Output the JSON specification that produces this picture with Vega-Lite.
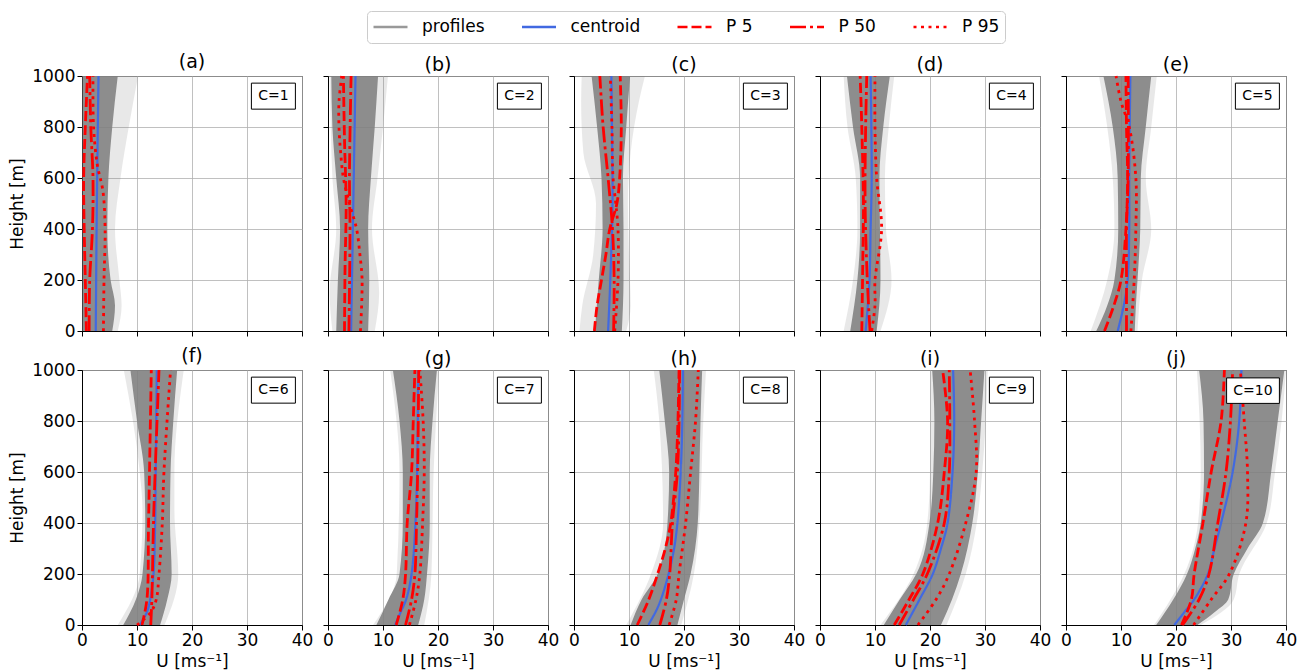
{
"$schema":"https://vega.github.io/schema/vega-lite/v6.json",
"background":"white",
"padding":{"left":8,"top":10,"right":5,"bottom":5},
"columns":5,
"spacing":{"row":39,"column":26},
"bounds":"flush",
"datasets":{
"lab":[{"p":"a","c":"C=1"},{"p":"b","c":"C=2"},{"p":"c","c":"C=3"},{"p":"d","c":"C=4"},{"p":"e","c":"C=5"},{"p":"f","c":"C=6"},{"p":"g","c":"C=7"},{"p":"h","c":"C=8"},{"p":"i","c":"C=9"},{"p":"j","c":"C=10"}],
"band":[
{"p":"a","k":"o","h":0,"u":0,"u2":6.5},{"p":"a","k":"o","h":100,"u":0,"u2":7.2},{"p":"a","k":"o","h":200,"u":0,"u2":6.8},{"p":"a","k":"o","h":400,"u":0,"u2":6.0},{"p":"a","k":"o","h":600,"u":0,"u2":7.0},{"p":"a","k":"o","h":800,"u":0,"u2":8.5},{"p":"a","k":"o","h":1000,"u":0,"u2":10.2},
{"p":"a","k":"c","h":0,"u":0.1,"u2":5.5},{"p":"a","k":"c","h":100,"u":0.1,"u2":6.0},{"p":"a","k":"c","h":200,"u":0.1,"u2":5.2},{"p":"a","k":"c","h":400,"u":0.1,"u2":4.6},{"p":"a","k":"c","h":600,"u":0.1,"u2":4.8},{"p":"a","k":"c","h":800,"u":0.1,"u2":5.5},{"p":"a","k":"c","h":1000,"u":0.1,"u2":6.5},
{"p":"b","k":"o","h":0,"u":0.8,"u2":8.5},{"p":"b","k":"o","h":150,"u":0.3,"u2":9.3},{"p":"b","k":"o","h":400,"u":1.5,"u2":8.0},{"p":"b","k":"o","h":600,"u":0.8,"u2":9.0},{"p":"b","k":"o","h":800,"u":0.5,"u2":10.0},{"p":"b","k":"o","h":1000,"u":0.3,"u2":10.9},
{"p":"b","k":"c","h":0,"u":1.5,"u2":7.3},{"p":"b","k":"c","h":200,"u":1.8,"u2":7.5},{"p":"b","k":"c","h":400,"u":2.2,"u2":7.3},{"p":"b","k":"c","h":600,"u":1.5,"u2":7.8},{"p":"b","k":"c","h":800,"u":0.8,"u2":8.5},{"p":"b","k":"c","h":1000,"u":0.6,"u2":9.1},
{"p":"c","k":"o","h":0,"u":1.0,"u2":9.5},{"p":"c","k":"o","h":100,"u":1.5,"u2":10.3},{"p":"c","k":"o","h":300,"u":3.5,"u2":10.0},{"p":"c","k":"o","h":500,"u":4.0,"u2":9.8},{"p":"c","k":"o","h":700,"u":1.7,"u2":10.3},{"p":"c","k":"o","h":900,"u":1.3,"u2":11.8},{"p":"c","k":"o","h":1000,"u":1.4,"u2":12.9},
{"p":"c","k":"c","h":0,"u":3.8,"u2":8.7},{"p":"c","k":"c","h":200,"u":4.5,"u2":9.0},{"p":"c","k":"c","h":400,"u":5.2,"u2":9.0},{"p":"c","k":"c","h":600,"u":5.0,"u2":8.9},{"p":"c","k":"c","h":800,"u":4.2,"u2":9.5},{"p":"c","k":"c","h":1000,"u":3.2,"u2":10.2},
{"p":"d","k":"o","h":0,"u":4.3,"u2":11.0},{"p":"d","k":"o","h":200,"u":6.0,"u2":13.0},{"p":"d","k":"o","h":400,"u":6.8,"u2":12.0},{"p":"d","k":"o","h":600,"u":6.5,"u2":11.8},{"p":"d","k":"o","h":800,"u":5.0,"u2":12.5},{"p":"d","k":"o","h":1000,"u":4.3,"u2":13.5},
{"p":"d","k":"c","h":0,"u":5.5,"u2":10.3},{"p":"d","k":"c","h":200,"u":6.8,"u2":11.0},{"p":"d","k":"c","h":400,"u":7.3,"u2":10.9},{"p":"d","k":"c","h":600,"u":7.3,"u2":10.8},{"p":"d","k":"c","h":800,"u":6.0,"u2":11.5},{"p":"d","k":"c","h":1000,"u":4.9,"u2":12.7},
{"p":"e","k":"o","h":0,"u":4.5,"u2":13.0},{"p":"e","k":"o","h":200,"u":7.5,"u2":13.8},{"p":"e","k":"o","h":400,"u":8.8,"u2":15.5},{"p":"e","k":"o","h":600,"u":8.5,"u2":14.5},{"p":"e","k":"o","h":800,"u":7.5,"u2":15.5},{"p":"e","k":"o","h":1000,"u":6.0,"u2":16.5},
{"p":"e","k":"c","h":0,"u":5.5,"u2":12.5},{"p":"e","k":"c","h":100,"u":7.5,"u2":12.7},{"p":"e","k":"c","h":200,"u":8.8,"u2":13.0},{"p":"e","k":"c","h":400,"u":9.5,"u2":13.5},{"p":"e","k":"c","h":600,"u":9.4,"u2":13.6},{"p":"e","k":"c","h":800,"u":8.5,"u2":14.5},{"p":"e","k":"c","h":1000,"u":6.8,"u2":15.5},
{"p":"f","k":"o","h":0,"u":6.5,"u2":15.0},{"p":"f","k":"o","h":200,"u":10.5,"u2":17.5},{"p":"f","k":"o","h":450,"u":11.0,"u2":16.8},{"p":"f","k":"o","h":600,"u":10.5,"u2":16.8},{"p":"f","k":"o","h":1000,"u":7.6,"u2":18.5},
{"p":"f","k":"c","h":0,"u":7.5,"u2":14.2},{"p":"f","k":"c","h":100,"u":9.8,"u2":15.5},{"p":"f","k":"c","h":200,"u":11.0,"u2":16.3},{"p":"f","k":"c","h":400,"u":11.5,"u2":16.0},{"p":"f","k":"c","h":600,"u":11.3,"u2":16.1},{"p":"f","k":"c","h":800,"u":10.0,"u2":16.6},{"p":"f","k":"c","h":1000,"u":8.8,"u2":17.3},
{"p":"g","k":"o","h":0,"u":8.2,"u2":17.5},{"p":"g","k":"o","h":200,"u":12.5,"u2":18.8},{"p":"g","k":"o","h":600,"u":13.0,"u2":19.2},{"p":"g","k":"o","h":1000,"u":11.3,"u2":20.2},
{"p":"g","k":"c","h":0,"u":8.8,"u2":16.4},{"p":"g","k":"c","h":100,"u":11.0,"u2":17.5},{"p":"g","k":"c","h":200,"u":13.0,"u2":18.0},{"p":"g","k":"c","h":400,"u":13.6,"u2":18.5},{"p":"g","k":"c","h":600,"u":13.6,"u2":18.5},{"p":"g","k":"c","h":800,"u":13.0,"u2":19.0},{"p":"g","k":"c","h":1000,"u":11.8,"u2":19.8},
{"p":"h","k":"o","h":0,"u":9.5,"u2":19.5},{"p":"h","k":"o","h":200,"u":14.0,"u2":21.8},{"p":"h","k":"o","h":400,"u":16.2,"u2":22.8},{"p":"h","k":"o","h":800,"u":15.5,"u2":23.5},{"p":"h","k":"o","h":1000,"u":14.5,"u2":24.0},
{"p":"h","k":"c","h":0,"u":10.3,"u2":18.8},{"p":"h","k":"c","h":100,"u":12.3,"u2":20.0},{"p":"h","k":"c","h":200,"u":15.2,"u2":21.2},{"p":"h","k":"c","h":400,"u":17.0,"u2":22.5},{"p":"h","k":"c","h":600,"u":17.3,"u2":22.8},{"p":"h","k":"c","h":800,"u":16.5,"u2":23.0},{"p":"h","k":"c","h":1000,"u":15.5,"u2":23.3},
{"p":"i","k":"o","h":0,"u":11.0,"u2":23.0},{"p":"i","k":"o","h":200,"u":17.0,"u2":26.5},{"p":"i","k":"o","h":400,"u":19.5,"u2":28.5},{"p":"i","k":"o","h":600,"u":20.0,"u2":29.5},{"p":"i","k":"o","h":1000,"u":20.0,"u2":30.5},
{"p":"i","k":"c","h":0,"u":11.6,"u2":22.0},{"p":"i","k":"c","h":100,"u":14.5,"u2":24.0},{"p":"i","k":"c","h":200,"u":17.5,"u2":25.6},{"p":"i","k":"c","h":400,"u":19.9,"u2":27.7},{"p":"i","k":"c","h":600,"u":20.6,"u2":28.7},{"p":"i","k":"c","h":800,"u":20.8,"u2":29.3},{"p":"i","k":"c","h":1000,"u":20.4,"u2":29.9},
{"p":"j","k":"o","h":0,"u":16.0,"u2":24.5},{"p":"j","k":"o","h":100,"u":19.0,"u2":30.5},{"p":"j","k":"o","h":200,"u":21.5,"u2":31.5},{"p":"j","k":"o","h":400,"u":24.0,"u2":36.5},{"p":"j","k":"o","h":600,"u":24.5,"u2":38.0},{"p":"j","k":"o","h":800,"u":24.3,"u2":39.2},{"p":"j","k":"o","h":1000,"u":23.8,"u2":40.0},
{"p":"j","k":"c","h":0,"u":16.4,"u2":23.9},{"p":"j","k":"c","h":50,"u":18.0,"u2":27.0},{"p":"j","k":"c","h":100,"u":19.5,"u2":29.5},{"p":"j","k":"c","h":200,"u":22.0,"u2":30.5},{"p":"j","k":"c","h":300,"u":23.5,"u2":33.0},{"p":"j","k":"c","h":400,"u":24.5,"u2":35.8},{"p":"j","k":"c","h":600,"u":25.1,"u2":37.3},{"p":"j","k":"c","h":800,"u":25.0,"u2":38.5},{"p":"j","k":"c","h":1000,"u":24.2,"u2":39.7}
],
"lines":[
{"p":"a","s":"centroid","h":0,"u":2.5},{"p":"a","s":"centroid","h":500,"u":2.7},{"p":"a","s":"centroid","h":1000,"u":3.0},
{"p":"a","s":"P 5","h":0,"u":0.8},{"p":"a","s":"P 5","h":200,"u":0.6},{"p":"a","s":"P 5","h":400,"u":0.4},{"p":"a","s":"P 5","h":600,"u":0.3},{"p":"a","s":"P 5","h":800,"u":0.6},{"p":"a","s":"P 5","h":1000,"u":1.0},
{"p":"a","s":"P 50","h":0,"u":1.3},{"p":"a","s":"P 50","h":200,"u":1.4},{"p":"a","s":"P 50","h":400,"u":1.9},{"p":"a","s":"P 50","h":600,"u":2.0},{"p":"a","s":"P 50","h":800,"u":1.6},{"p":"a","s":"P 50","h":1000,"u":1.4},
{"p":"a","s":"P 95","h":0,"u":3.9},{"p":"a","s":"P 95","h":200,"u":4.0},{"p":"a","s":"P 95","h":400,"u":4.2},{"p":"a","s":"P 95","h":550,"u":3.8},{"p":"a","s":"P 95","h":650,"u":2.8},{"p":"a","s":"P 95","h":800,"u":2.1},{"p":"a","s":"P 95","h":1000,"u":2.0},
{"p":"b","s":"centroid","h":0,"u":4.2},{"p":"b","s":"centroid","h":500,"u":4.6},{"p":"b","s":"centroid","h":1000,"u":5.0},
{"p":"b","s":"P 5","h":0,"u":3.0},{"p":"b","s":"P 5","h":250,"u":3.1},{"p":"b","s":"P 5","h":500,"u":3.3},{"p":"b","s":"P 5","h":750,"u":3.0},{"p":"b","s":"P 5","h":1000,"u":2.8},
{"p":"b","s":"P 50","h":0,"u":3.8},{"p":"b","s":"P 50","h":400,"u":4.0},{"p":"b","s":"P 50","h":600,"u":3.9},{"p":"b","s":"P 50","h":1000,"u":4.2},
{"p":"b","s":"P 95","h":0,"u":5.9},{"p":"b","s":"P 95","h":200,"u":6.2},{"p":"b","s":"P 95","h":300,"u":5.8},{"p":"b","s":"P 95","h":400,"u":5.2},{"p":"b","s":"P 95","h":500,"u":3.9},{"p":"b","s":"P 95","h":600,"u":2.8},{"p":"b","s":"P 95","h":700,"u":2.3},{"p":"b","s":"P 95","h":800,"u":2.0},{"p":"b","s":"P 95","h":900,"u":2.0},{"p":"b","s":"P 95","h":1000,"u":2.5},
{"p":"c","s":"centroid","h":0,"u":6.2},{"p":"c","s":"centroid","h":200,"u":6.6},{"p":"c","s":"centroid","h":500,"u":7.0},{"p":"c","s":"centroid","h":800,"u":6.9},{"p":"c","s":"centroid","h":1000,"u":6.8},
{"p":"c","s":"P 5","h":0,"u":3.7},{"p":"c","s":"P 5","h":100,"u":4.2},{"p":"c","s":"P 5","h":200,"u":5.0},{"p":"c","s":"P 5","h":300,"u":5.8},{"p":"c","s":"P 5","h":400,"u":6.5},{"p":"c","s":"P 5","h":500,"u":7.8},{"p":"c","s":"P 5","h":600,"u":8.3},{"p":"c","s":"P 5","h":800,"u":8.6},{"p":"c","s":"P 5","h":1000,"u":8.4},
{"p":"c","s":"P 50","h":0,"u":7.2},{"p":"c","s":"P 50","h":200,"u":7.3},{"p":"c","s":"P 50","h":400,"u":7.0},{"p":"c","s":"P 50","h":600,"u":6.2},{"p":"c","s":"P 50","h":800,"u":5.3},{"p":"c","s":"P 50","h":1000,"u":4.7},
{"p":"c","s":"P 95","h":0,"u":7.4},{"p":"c","s":"P 95","h":200,"u":8.0},{"p":"c","s":"P 95","h":400,"u":8.0},{"p":"c","s":"P 95","h":500,"u":7.6},{"p":"c","s":"P 95","h":600,"u":7.1},{"p":"c","s":"P 95","h":800,"u":6.9},{"p":"c","s":"P 95","h":1000,"u":6.6},
{"p":"d","s":"centroid","h":0,"u":8.3},{"p":"d","s":"centroid","h":50,"u":8.5},{"p":"d","s":"centroid","h":200,"u":9.0},{"p":"d","s":"centroid","h":400,"u":9.2},{"p":"d","s":"centroid","h":600,"u":9.4},{"p":"d","s":"centroid","h":1000,"u":9.2},
{"p":"d","s":"P 5","h":0,"u":7.6},{"p":"d","s":"P 5","h":300,"u":7.8},{"p":"d","s":"P 5","h":500,"u":7.9},{"p":"d","s":"P 5","h":800,"u":7.6},{"p":"d","s":"P 5","h":1000,"u":7.3},
{"p":"d","s":"P 50","h":0,"u":9.1},{"p":"d","s":"P 50","h":200,"u":8.6},{"p":"d","s":"P 50","h":500,"u":8.2},{"p":"d","s":"P 50","h":800,"u":8.3},{"p":"d","s":"P 50","h":1000,"u":8.5},
{"p":"d","s":"P 95","h":0,"u":9.4},{"p":"d","s":"P 95","h":100,"u":10.0},{"p":"d","s":"P 95","h":200,"u":10.0},{"p":"d","s":"P 95","h":400,"u":11.2},{"p":"d","s":"P 95","h":600,"u":10.3},{"p":"d","s":"P 95","h":800,"u":10.0},{"p":"d","s":"P 95","h":1000,"u":10.0},
{"p":"e","s":"centroid","h":0,"u":9.4},{"p":"e","s":"centroid","h":100,"u":10.5},{"p":"e","s":"centroid","h":200,"u":11.2},{"p":"e","s":"centroid","h":400,"u":11.5},{"p":"e","s":"centroid","h":600,"u":11.5},{"p":"e","s":"centroid","h":1000,"u":11.7},
{"p":"e","s":"P 5","h":0,"u":7.0},{"p":"e","s":"P 5","h":100,"u":8.7},{"p":"e","s":"P 5","h":200,"u":10.0},{"p":"e","s":"P 5","h":400,"u":10.9},{"p":"e","s":"P 5","h":600,"u":11.2},{"p":"e","s":"P 5","h":800,"u":11.0},{"p":"e","s":"P 5","h":1000,"u":10.9},
{"p":"e","s":"P 50","h":0,"u":11.0},{"p":"e","s":"P 50","h":200,"u":11.0},{"p":"e","s":"P 50","h":400,"u":11.0},{"p":"e","s":"P 50","h":600,"u":11.3},{"p":"e","s":"P 50","h":1000,"u":11.3},
{"p":"e","s":"P 95","h":0,"u":11.8},{"p":"e","s":"P 95","h":200,"u":12.4},{"p":"e","s":"P 95","h":400,"u":12.7},{"p":"e","s":"P 95","h":600,"u":12.7},{"p":"e","s":"P 95","h":800,"u":11.5},{"p":"e","s":"P 95","h":900,"u":10.0},{"p":"e","s":"P 95","h":1000,"u":9.1},
{"p":"f","s":"centroid","h":0,"u":10.5},{"p":"f","s":"centroid","h":50,"u":11.8},{"p":"f","s":"centroid","h":100,"u":12.4},{"p":"f","s":"centroid","h":200,"u":13.0},{"p":"f","s":"centroid","h":400,"u":13.3},{"p":"f","s":"centroid","h":600,"u":13.4},{"p":"f","s":"centroid","h":1000,"u":13.6},
{"p":"f","s":"P 5","h":0,"u":10.9},{"p":"f","s":"P 5","h":100,"u":11.8},{"p":"f","s":"P 5","h":400,"u":12.1},{"p":"f","s":"P 5","h":1000,"u":12.6},
{"p":"f","s":"P 50","h":0,"u":12.5},{"p":"f","s":"P 50","h":100,"u":12.7},{"p":"f","s":"P 50","h":400,"u":13.0},{"p":"f","s":"P 50","h":600,"u":13.3},{"p":"f","s":"P 50","h":1000,"u":14.0},
{"p":"f","s":"P 95","h":0,"u":10.0},{"p":"f","s":"P 95","h":50,"u":12.5},{"p":"f","s":"P 95","h":100,"u":13.5},{"p":"f","s":"P 95","h":200,"u":14.0},{"p":"f","s":"P 95","h":400,"u":14.6},{"p":"f","s":"P 95","h":600,"u":14.9},{"p":"f","s":"P 95","h":1000,"u":16.1},
{"p":"g","s":"centroid","h":0,"u":12.2},{"p":"g","s":"centroid","h":50,"u":13.2},{"p":"g","s":"centroid","h":100,"u":14.2},{"p":"g","s":"centroid","h":200,"u":15.2},{"p":"g","s":"centroid","h":400,"u":15.9},{"p":"g","s":"centroid","h":600,"u":16.2},{"p":"g","s":"centroid","h":1000,"u":16.4},
{"p":"g","s":"P 5","h":0,"u":12.4},{"p":"g","s":"P 5","h":100,"u":13.6},{"p":"g","s":"P 5","h":200,"u":14.1},{"p":"g","s":"P 5","h":400,"u":14.4},{"p":"g","s":"P 5","h":600,"u":15.2},{"p":"g","s":"P 5","h":800,"u":15.5},{"p":"g","s":"P 5","h":1000,"u":15.8},
{"p":"g","s":"P 50","h":0,"u":14.1},{"p":"g","s":"P 50","h":100,"u":15.2},{"p":"g","s":"P 50","h":200,"u":15.8},{"p":"g","s":"P 50","h":400,"u":16.1},{"p":"g","s":"P 50","h":600,"u":16.3},{"p":"g","s":"P 50","h":1000,"u":16.5},
{"p":"g","s":"P 95","h":0,"u":14.8},{"p":"g","s":"P 95","h":100,"u":16.0},{"p":"g","s":"P 95","h":200,"u":16.7},{"p":"g","s":"P 95","h":400,"u":17.2},{"p":"g","s":"P 95","h":600,"u":17.5},{"p":"g","s":"P 95","h":800,"u":17.3},{"p":"g","s":"P 95","h":1000,"u":16.7},
{"p":"h","s":"centroid","h":0,"u":13.5},{"p":"h","s":"centroid","h":50,"u":14.8},{"p":"h","s":"centroid","h":100,"u":15.8},{"p":"h","s":"centroid","h":200,"u":17.2},{"p":"h","s":"centroid","h":300,"u":18.2},{"p":"h","s":"centroid","h":400,"u":18.8},{"p":"h","s":"centroid","h":600,"u":19.4},{"p":"h","s":"centroid","h":800,"u":19.7},{"p":"h","s":"centroid","h":1000,"u":19.8},
{"p":"h","s":"P 5","h":0,"u":11.5},{"p":"h","s":"P 5","h":100,"u":13.6},{"p":"h","s":"P 5","h":200,"u":15.2},{"p":"h","s":"P 5","h":300,"u":16.6},{"p":"h","s":"P 5","h":400,"u":17.6},{"p":"h","s":"P 5","h":600,"u":18.5},{"p":"h","s":"P 5","h":800,"u":18.9},{"p":"h","s":"P 5","h":1000,"u":19.1},
{"p":"h","s":"P 50","h":0,"u":15.6},{"p":"h","s":"P 50","h":100,"u":16.8},{"p":"h","s":"P 50","h":200,"u":17.4},{"p":"h","s":"P 50","h":400,"u":17.9},{"p":"h","s":"P 50","h":600,"u":18.8},{"p":"h","s":"P 50","h":800,"u":19.1},{"p":"h","s":"P 50","h":1000,"u":19.2},
{"p":"h","s":"P 95","h":0,"u":17.3},{"p":"h","s":"P 95","h":100,"u":18.6},{"p":"h","s":"P 95","h":200,"u":19.1},{"p":"h","s":"P 95","h":400,"u":20.3},{"p":"h","s":"P 95","h":600,"u":21.2},{"p":"h","s":"P 95","h":800,"u":22.1},{"p":"h","s":"P 95","h":1000,"u":22.6},
{"p":"i","s":"centroid","h":0,"u":15.6},{"p":"i","s":"centroid","h":100,"u":18.1},{"p":"i","s":"centroid","h":200,"u":20.5},{"p":"i","s":"centroid","h":300,"u":22.0},{"p":"i","s":"centroid","h":400,"u":23.2},{"p":"i","s":"centroid","h":600,"u":24.1},{"p":"i","s":"centroid","h":800,"u":24.4},{"p":"i","s":"centroid","h":1000,"u":24.2},
{"p":"i","s":"P 5","h":0,"u":13.5},{"p":"i","s":"P 5","h":100,"u":16.2},{"p":"i","s":"P 5","h":200,"u":18.7},{"p":"i","s":"P 5","h":400,"u":21.4},{"p":"i","s":"P 5","h":600,"u":22.6},{"p":"i","s":"P 5","h":800,"u":23.2},{"p":"i","s":"P 5","h":1000,"u":22.3},
{"p":"i","s":"P 50","h":0,"u":14.4},{"p":"i","s":"P 50","h":100,"u":17.0},{"p":"i","s":"P 50","h":200,"u":19.5},{"p":"i","s":"P 50","h":400,"u":22.6},{"p":"i","s":"P 50","h":600,"u":23.5},{"p":"i","s":"P 50","h":800,"u":23.6},{"p":"i","s":"P 50","h":1000,"u":23.5},
{"p":"i","s":"P 95","h":0,"u":17.8},{"p":"i","s":"P 95","h":100,"u":21.1},{"p":"i","s":"P 95","h":200,"u":23.5},{"p":"i","s":"P 95","h":400,"u":26.5},{"p":"i","s":"P 95","h":600,"u":28.4},{"p":"i","s":"P 95","h":800,"u":28.1},{"p":"i","s":"P 95","h":1000,"u":27.3},
{"p":"j","s":"centroid","h":0,"u":19.7},{"p":"j","s":"centroid","h":50,"u":21.5},{"p":"j","s":"centroid","h":100,"u":23.3},{"p":"j","s":"centroid","h":200,"u":25.8},{"p":"j","s":"centroid","h":300,"u":27.0},{"p":"j","s":"centroid","h":400,"u":28.2},{"p":"j","s":"centroid","h":600,"u":30.3},{"p":"j","s":"centroid","h":800,"u":31.5},{"p":"j","s":"centroid","h":1000,"u":31.9},
{"p":"j","s":"P 5","h":0,"u":21.0},{"p":"j","s":"P 5","h":100,"u":22.8},{"p":"j","s":"P 5","h":200,"u":23.3},{"p":"j","s":"P 5","h":400,"u":24.9},{"p":"j","s":"P 5","h":600,"u":26.4},{"p":"j","s":"P 5","h":800,"u":28.2},{"p":"j","s":"P 5","h":1000,"u":28.8},
{"p":"j","s":"P 50","h":0,"u":21.2},{"p":"j","s":"P 50","h":100,"u":24.2},{"p":"j","s":"P 50","h":200,"u":26.0},{"p":"j","s":"P 50","h":400,"u":27.6},{"p":"j","s":"P 50","h":600,"u":29.1},{"p":"j","s":"P 50","h":800,"u":29.9},{"p":"j","s":"P 50","h":1000,"u":30.3},
{"p":"j","s":"P 95","h":0,"u":23.2},{"p":"j","s":"P 95","h":100,"u":26.4},{"p":"j","s":"P 95","h":200,"u":29.7},{"p":"j","s":"P 95","h":400,"u":32.7},{"p":"j","s":"P 95","h":600,"u":33.0},{"p":"j","s":"P 95","h":800,"u":32.4},{"p":"j","s":"P 95","h":1000,"u":31.7}
]
},
"concat":[
{"width":220,"height":255,"title":"(a)","layer":[
{"encoding":{"x":{"field":"u","type":"quantitative","scale":{"domain":[0,40]},"axis":{"values":[0,10,20,30,40],"labels":false,"title":null}},"y":{"field":"h","type":"quantitative","scale":{"domain":[0,1000]},"axis":{"values":[0,200,400,600,800,1000],"format":"d","labels":true,"title":"Height [m]"}}},
"layer":[
{"data":{"name":"band"},"transform":[{"filter":"datum.p=='a'&&datum.k=='o'"}],"mark":{"type":"area","orient":"horizontal","interpolate":"monotone","fill":"#808080","opacity":0.18},"encoding":{"x2":{"field":"u2"}}},
{"data":{"name":"band"},"transform":[{"filter":"datum.p=='a'&&datum.k=='c'"}],"mark":{"type":"area","orient":"horizontal","interpolate":"monotone","fill":"#808080","opacity":0.88},"encoding":{"x2":{"field":"u2"}}},
{"data":{"name":"lines"},"transform":[{"filter":"datum.p=='a'"}],"mark":{"type":"line","interpolate":"catmull-rom"},"encoding":{"order":{"field":"h","type":"quantitative"},"color":{"field":"s","type":"nominal","scale":{"domain":["profiles","centroid","P 5","P 50","P 95"],"range":["#999999","#4169e1","#ff0000","#ff0000","#ff0000"]},"legend":{"title":null}},"strokeDash":{"field":"s","type":"nominal","scale":{"domain":["profiles","centroid","P 5","P 50","P 95"],"range":[[1,0],[1,0],[10,4],[16,4,3,4],[3,4.5]]},"legend":{"title":null}},"strokeWidth":{"condition":{"test":"datum.s=='centroid'","value":2.2},"value":2.8}}}
]},
{"data":{"name":"lab"},"transform":[{"filter":"datum.p=='a'"}],"mark":{"type":"rect","fill":"white","stroke":"black","strokeWidth":1},"encoding":{"x":{"datum":30.8,"type":"quantitative"},"x2":{"datum":38.8},"y":{"datum":870,"type":"quantitative"},"y2":{"datum":972}}},
{"data":{"name":"lab"},"transform":[{"filter":"datum.p=='a'"}],"mark":{"type":"text","fontSize":14,"align":"center","baseline":"middle"},"encoding":{"x":{"datum":34.8,"type":"quantitative"},"y":{"datum":921,"type":"quantitative"},"text":{"field":"c"}}}
]},
{"width":220,"height":255,"title":"(b)","layer":[
{"encoding":{"x":{"field":"u","type":"quantitative","scale":{"domain":[0,40]},"axis":{"values":[0,10,20,30,40],"labels":false,"title":null}},"y":{"field":"h","type":"quantitative","scale":{"domain":[0,1000]},"axis":{"values":[0,200,400,600,800,1000],"labels":false,"title":null}}},
"layer":[
{"data":{"name":"band"},"transform":[{"filter":"datum.p=='b'&&datum.k=='o'"}],"mark":{"type":"area","orient":"horizontal","interpolate":"monotone","fill":"#808080","opacity":0.18},"encoding":{"x2":{"field":"u2"}}},
{"data":{"name":"band"},"transform":[{"filter":"datum.p=='b'&&datum.k=='c'"}],"mark":{"type":"area","orient":"horizontal","interpolate":"monotone","fill":"#808080","opacity":0.88},"encoding":{"x2":{"field":"u2"}}},
{"data":{"name":"lines"},"transform":[{"filter":"datum.p=='b'"}],"mark":{"type":"line","interpolate":"catmull-rom"},"encoding":{"order":{"field":"h","type":"quantitative"},"color":{"field":"s","type":"nominal","scale":{"domain":["profiles","centroid","P 5","P 50","P 95"],"range":["#999999","#4169e1","#ff0000","#ff0000","#ff0000"]},"legend":{"title":null}},"strokeDash":{"field":"s","type":"nominal","scale":{"domain":["profiles","centroid","P 5","P 50","P 95"],"range":[[1,0],[1,0],[10,4],[16,4,3,4],[3,4.5]]},"legend":{"title":null}},"strokeWidth":{"condition":{"test":"datum.s=='centroid'","value":2.2},"value":2.8}}}
]},
{"data":{"name":"lab"},"transform":[{"filter":"datum.p=='b'"}],"mark":{"type":"rect","fill":"white","stroke":"black","strokeWidth":1},"encoding":{"x":{"datum":30.8,"type":"quantitative"},"x2":{"datum":38.8},"y":{"datum":870,"type":"quantitative"},"y2":{"datum":972}}},
{"data":{"name":"lab"},"transform":[{"filter":"datum.p=='b'"}],"mark":{"type":"text","fontSize":14,"align":"center","baseline":"middle"},"encoding":{"x":{"datum":34.8,"type":"quantitative"},"y":{"datum":921,"type":"quantitative"},"text":{"field":"c"}}}
]},
{"width":220,"height":255,"title":"(c)","layer":[
{"encoding":{"x":{"field":"u","type":"quantitative","scale":{"domain":[0,40]},"axis":{"values":[0,10,20,30,40],"labels":false,"title":null}},"y":{"field":"h","type":"quantitative","scale":{"domain":[0,1000]},"axis":{"values":[0,200,400,600,800,1000],"labels":false,"title":null}}},
"layer":[
{"data":{"name":"band"},"transform":[{"filter":"datum.p=='c'&&datum.k=='o'"}],"mark":{"type":"area","orient":"horizontal","interpolate":"monotone","fill":"#808080","opacity":0.18},"encoding":{"x2":{"field":"u2"}}},
{"data":{"name":"band"},"transform":[{"filter":"datum.p=='c'&&datum.k=='c'"}],"mark":{"type":"area","orient":"horizontal","interpolate":"monotone","fill":"#808080","opacity":0.88},"encoding":{"x2":{"field":"u2"}}},
{"data":{"name":"lines"},"transform":[{"filter":"datum.p=='c'"}],"mark":{"type":"line","interpolate":"catmull-rom"},"encoding":{"order":{"field":"h","type":"quantitative"},"color":{"field":"s","type":"nominal","scale":{"domain":["profiles","centroid","P 5","P 50","P 95"],"range":["#999999","#4169e1","#ff0000","#ff0000","#ff0000"]},"legend":{"title":null}},"strokeDash":{"field":"s","type":"nominal","scale":{"domain":["profiles","centroid","P 5","P 50","P 95"],"range":[[1,0],[1,0],[10,4],[16,4,3,4],[3,4.5]]},"legend":{"title":null}},"strokeWidth":{"condition":{"test":"datum.s=='centroid'","value":2.2},"value":2.8}}}
]},
{"data":{"name":"lab"},"transform":[{"filter":"datum.p=='c'"}],"mark":{"type":"rect","fill":"white","stroke":"black","strokeWidth":1},"encoding":{"x":{"datum":30.8,"type":"quantitative"},"x2":{"datum":38.8},"y":{"datum":870,"type":"quantitative"},"y2":{"datum":972}}},
{"data":{"name":"lab"},"transform":[{"filter":"datum.p=='c'"}],"mark":{"type":"text","fontSize":14,"align":"center","baseline":"middle"},"encoding":{"x":{"datum":34.8,"type":"quantitative"},"y":{"datum":921,"type":"quantitative"},"text":{"field":"c"}}}
]},
{"width":220,"height":255,"title":"(d)","layer":[
{"encoding":{"x":{"field":"u","type":"quantitative","scale":{"domain":[0,40]},"axis":{"values":[0,10,20,30,40],"labels":false,"title":null}},"y":{"field":"h","type":"quantitative","scale":{"domain":[0,1000]},"axis":{"values":[0,200,400,600,800,1000],"labels":false,"title":null}}},
"layer":[
{"data":{"name":"band"},"transform":[{"filter":"datum.p=='d'&&datum.k=='o'"}],"mark":{"type":"area","orient":"horizontal","interpolate":"monotone","fill":"#808080","opacity":0.18},"encoding":{"x2":{"field":"u2"}}},
{"data":{"name":"band"},"transform":[{"filter":"datum.p=='d'&&datum.k=='c'"}],"mark":{"type":"area","orient":"horizontal","interpolate":"monotone","fill":"#808080","opacity":0.88},"encoding":{"x2":{"field":"u2"}}},
{"data":{"name":"lines"},"transform":[{"filter":"datum.p=='d'"}],"mark":{"type":"line","interpolate":"catmull-rom"},"encoding":{"order":{"field":"h","type":"quantitative"},"color":{"field":"s","type":"nominal","scale":{"domain":["profiles","centroid","P 5","P 50","P 95"],"range":["#999999","#4169e1","#ff0000","#ff0000","#ff0000"]},"legend":{"title":null}},"strokeDash":{"field":"s","type":"nominal","scale":{"domain":["profiles","centroid","P 5","P 50","P 95"],"range":[[1,0],[1,0],[10,4],[16,4,3,4],[3,4.5]]},"legend":{"title":null}},"strokeWidth":{"condition":{"test":"datum.s=='centroid'","value":2.2},"value":2.8}}}
]},
{"data":{"name":"lab"},"transform":[{"filter":"datum.p=='d'"}],"mark":{"type":"rect","fill":"white","stroke":"black","strokeWidth":1},"encoding":{"x":{"datum":30.8,"type":"quantitative"},"x2":{"datum":38.8},"y":{"datum":870,"type":"quantitative"},"y2":{"datum":972}}},
{"data":{"name":"lab"},"transform":[{"filter":"datum.p=='d'"}],"mark":{"type":"text","fontSize":14,"align":"center","baseline":"middle"},"encoding":{"x":{"datum":34.8,"type":"quantitative"},"y":{"datum":921,"type":"quantitative"},"text":{"field":"c"}}}
]},
{"width":220,"height":255,"title":"(e)","layer":[
{"encoding":{"x":{"field":"u","type":"quantitative","scale":{"domain":[0,40]},"axis":{"values":[0,10,20,30,40],"labels":false,"title":null}},"y":{"field":"h","type":"quantitative","scale":{"domain":[0,1000]},"axis":{"values":[0,200,400,600,800,1000],"labels":false,"title":null}}},
"layer":[
{"data":{"name":"band"},"transform":[{"filter":"datum.p=='e'&&datum.k=='o'"}],"mark":{"type":"area","orient":"horizontal","interpolate":"monotone","fill":"#808080","opacity":0.18},"encoding":{"x2":{"field":"u2"}}},
{"data":{"name":"band"},"transform":[{"filter":"datum.p=='e'&&datum.k=='c'"}],"mark":{"type":"area","orient":"horizontal","interpolate":"monotone","fill":"#808080","opacity":0.88},"encoding":{"x2":{"field":"u2"}}},
{"data":{"name":"lines"},"transform":[{"filter":"datum.p=='e'"}],"mark":{"type":"line","interpolate":"catmull-rom"},"encoding":{"order":{"field":"h","type":"quantitative"},"color":{"field":"s","type":"nominal","scale":{"domain":["profiles","centroid","P 5","P 50","P 95"],"range":["#999999","#4169e1","#ff0000","#ff0000","#ff0000"]},"legend":{"title":null}},"strokeDash":{"field":"s","type":"nominal","scale":{"domain":["profiles","centroid","P 5","P 50","P 95"],"range":[[1,0],[1,0],[10,4],[16,4,3,4],[3,4.5]]},"legend":{"title":null}},"strokeWidth":{"condition":{"test":"datum.s=='centroid'","value":2.2},"value":2.8}}}
]},
{"data":{"name":"lab"},"transform":[{"filter":"datum.p=='e'"}],"mark":{"type":"rect","fill":"white","stroke":"black","strokeWidth":1},"encoding":{"x":{"datum":30.8,"type":"quantitative"},"x2":{"datum":38.8},"y":{"datum":870,"type":"quantitative"},"y2":{"datum":972}}},
{"data":{"name":"lab"},"transform":[{"filter":"datum.p=='e'"}],"mark":{"type":"text","fontSize":14,"align":"center","baseline":"middle"},"encoding":{"x":{"datum":34.8,"type":"quantitative"},"y":{"datum":921,"type":"quantitative"},"text":{"field":"c"}}}
]},
{"width":220,"height":255,"title":"(f)","layer":[
{"encoding":{"x":{"field":"u","type":"quantitative","scale":{"domain":[0,40]},"axis":{"values":[0,10,20,30,40],"labels":true,"title":"U [ms⁻¹]"}},"y":{"field":"h","type":"quantitative","scale":{"domain":[0,1000]},"axis":{"values":[0,200,400,600,800,1000],"format":"d","labels":true,"title":"Height [m]"}}},
"layer":[
{"data":{"name":"band"},"transform":[{"filter":"datum.p=='f'&&datum.k=='o'"}],"mark":{"type":"area","orient":"horizontal","interpolate":"monotone","fill":"#808080","opacity":0.18},"encoding":{"x2":{"field":"u2"}}},
{"data":{"name":"band"},"transform":[{"filter":"datum.p=='f'&&datum.k=='c'"}],"mark":{"type":"area","orient":"horizontal","interpolate":"monotone","fill":"#808080","opacity":0.88},"encoding":{"x2":{"field":"u2"}}},
{"data":{"name":"lines"},"transform":[{"filter":"datum.p=='f'"}],"mark":{"type":"line","interpolate":"catmull-rom"},"encoding":{"order":{"field":"h","type":"quantitative"},"color":{"field":"s","type":"nominal","scale":{"domain":["profiles","centroid","P 5","P 50","P 95"],"range":["#999999","#4169e1","#ff0000","#ff0000","#ff0000"]},"legend":{"title":null}},"strokeDash":{"field":"s","type":"nominal","scale":{"domain":["profiles","centroid","P 5","P 50","P 95"],"range":[[1,0],[1,0],[10,4],[16,4,3,4],[3,4.5]]},"legend":{"title":null}},"strokeWidth":{"condition":{"test":"datum.s=='centroid'","value":2.2},"value":2.8}}}
]},
{"data":{"name":"lab"},"transform":[{"filter":"datum.p=='f'"}],"mark":{"type":"rect","fill":"white","stroke":"black","strokeWidth":1},"encoding":{"x":{"datum":30.8,"type":"quantitative"},"x2":{"datum":38.8},"y":{"datum":870,"type":"quantitative"},"y2":{"datum":972}}},
{"data":{"name":"lab"},"transform":[{"filter":"datum.p=='f'"}],"mark":{"type":"text","fontSize":14,"align":"center","baseline":"middle"},"encoding":{"x":{"datum":34.8,"type":"quantitative"},"y":{"datum":921,"type":"quantitative"},"text":{"field":"c"}}}
]},
{"width":220,"height":255,"title":"(g)","layer":[
{"encoding":{"x":{"field":"u","type":"quantitative","scale":{"domain":[0,40]},"axis":{"values":[0,10,20,30,40],"labels":true,"title":"U [ms⁻¹]"}},"y":{"field":"h","type":"quantitative","scale":{"domain":[0,1000]},"axis":{"values":[0,200,400,600,800,1000],"labels":false,"title":null}}},
"layer":[
{"data":{"name":"band"},"transform":[{"filter":"datum.p=='g'&&datum.k=='o'"}],"mark":{"type":"area","orient":"horizontal","interpolate":"monotone","fill":"#808080","opacity":0.18},"encoding":{"x2":{"field":"u2"}}},
{"data":{"name":"band"},"transform":[{"filter":"datum.p=='g'&&datum.k=='c'"}],"mark":{"type":"area","orient":"horizontal","interpolate":"monotone","fill":"#808080","opacity":0.88},"encoding":{"x2":{"field":"u2"}}},
{"data":{"name":"lines"},"transform":[{"filter":"datum.p=='g'"}],"mark":{"type":"line","interpolate":"catmull-rom"},"encoding":{"order":{"field":"h","type":"quantitative"},"color":{"field":"s","type":"nominal","scale":{"domain":["profiles","centroid","P 5","P 50","P 95"],"range":["#999999","#4169e1","#ff0000","#ff0000","#ff0000"]},"legend":{"title":null}},"strokeDash":{"field":"s","type":"nominal","scale":{"domain":["profiles","centroid","P 5","P 50","P 95"],"range":[[1,0],[1,0],[10,4],[16,4,3,4],[3,4.5]]},"legend":{"title":null}},"strokeWidth":{"condition":{"test":"datum.s=='centroid'","value":2.2},"value":2.8}}}
]},
{"data":{"name":"lab"},"transform":[{"filter":"datum.p=='g'"}],"mark":{"type":"rect","fill":"white","stroke":"black","strokeWidth":1},"encoding":{"x":{"datum":30.8,"type":"quantitative"},"x2":{"datum":38.8},"y":{"datum":870,"type":"quantitative"},"y2":{"datum":972}}},
{"data":{"name":"lab"},"transform":[{"filter":"datum.p=='g'"}],"mark":{"type":"text","fontSize":14,"align":"center","baseline":"middle"},"encoding":{"x":{"datum":34.8,"type":"quantitative"},"y":{"datum":921,"type":"quantitative"},"text":{"field":"c"}}}
]},
{"width":220,"height":255,"title":"(h)","layer":[
{"encoding":{"x":{"field":"u","type":"quantitative","scale":{"domain":[0,40]},"axis":{"values":[0,10,20,30,40],"labels":true,"title":"U [ms⁻¹]"}},"y":{"field":"h","type":"quantitative","scale":{"domain":[0,1000]},"axis":{"values":[0,200,400,600,800,1000],"labels":false,"title":null}}},
"layer":[
{"data":{"name":"band"},"transform":[{"filter":"datum.p=='h'&&datum.k=='o'"}],"mark":{"type":"area","orient":"horizontal","interpolate":"monotone","fill":"#808080","opacity":0.18},"encoding":{"x2":{"field":"u2"}}},
{"data":{"name":"band"},"transform":[{"filter":"datum.p=='h'&&datum.k=='c'"}],"mark":{"type":"area","orient":"horizontal","interpolate":"monotone","fill":"#808080","opacity":0.88},"encoding":{"x2":{"field":"u2"}}},
{"data":{"name":"lines"},"transform":[{"filter":"datum.p=='h'"}],"mark":{"type":"line","interpolate":"catmull-rom"},"encoding":{"order":{"field":"h","type":"quantitative"},"color":{"field":"s","type":"nominal","scale":{"domain":["profiles","centroid","P 5","P 50","P 95"],"range":["#999999","#4169e1","#ff0000","#ff0000","#ff0000"]},"legend":{"title":null}},"strokeDash":{"field":"s","type":"nominal","scale":{"domain":["profiles","centroid","P 5","P 50","P 95"],"range":[[1,0],[1,0],[10,4],[16,4,3,4],[3,4.5]]},"legend":{"title":null}},"strokeWidth":{"condition":{"test":"datum.s=='centroid'","value":2.2},"value":2.8}}}
]},
{"data":{"name":"lab"},"transform":[{"filter":"datum.p=='h'"}],"mark":{"type":"rect","fill":"white","stroke":"black","strokeWidth":1},"encoding":{"x":{"datum":30.8,"type":"quantitative"},"x2":{"datum":38.8},"y":{"datum":870,"type":"quantitative"},"y2":{"datum":972}}},
{"data":{"name":"lab"},"transform":[{"filter":"datum.p=='h'"}],"mark":{"type":"text","fontSize":14,"align":"center","baseline":"middle"},"encoding":{"x":{"datum":34.8,"type":"quantitative"},"y":{"datum":921,"type":"quantitative"},"text":{"field":"c"}}}
]},
{"width":220,"height":255,"title":"(i)","layer":[
{"encoding":{"x":{"field":"u","type":"quantitative","scale":{"domain":[0,40]},"axis":{"values":[0,10,20,30,40],"labels":true,"title":"U [ms⁻¹]"}},"y":{"field":"h","type":"quantitative","scale":{"domain":[0,1000]},"axis":{"values":[0,200,400,600,800,1000],"labels":false,"title":null}}},
"layer":[
{"data":{"name":"band"},"transform":[{"filter":"datum.p=='i'&&datum.k=='o'"}],"mark":{"type":"area","orient":"horizontal","interpolate":"monotone","fill":"#808080","opacity":0.18},"encoding":{"x2":{"field":"u2"}}},
{"data":{"name":"band"},"transform":[{"filter":"datum.p=='i'&&datum.k=='c'"}],"mark":{"type":"area","orient":"horizontal","interpolate":"monotone","fill":"#808080","opacity":0.88},"encoding":{"x2":{"field":"u2"}}},
{"data":{"name":"lines"},"transform":[{"filter":"datum.p=='i'"}],"mark":{"type":"line","interpolate":"catmull-rom"},"encoding":{"order":{"field":"h","type":"quantitative"},"color":{"field":"s","type":"nominal","scale":{"domain":["profiles","centroid","P 5","P 50","P 95"],"range":["#999999","#4169e1","#ff0000","#ff0000","#ff0000"]},"legend":{"title":null}},"strokeDash":{"field":"s","type":"nominal","scale":{"domain":["profiles","centroid","P 5","P 50","P 95"],"range":[[1,0],[1,0],[10,4],[16,4,3,4],[3,4.5]]},"legend":{"title":null}},"strokeWidth":{"condition":{"test":"datum.s=='centroid'","value":2.2},"value":2.8}}}
]},
{"data":{"name":"lab"},"transform":[{"filter":"datum.p=='i'"}],"mark":{"type":"rect","fill":"white","stroke":"black","strokeWidth":1},"encoding":{"x":{"datum":30.8,"type":"quantitative"},"x2":{"datum":38.8},"y":{"datum":870,"type":"quantitative"},"y2":{"datum":972}}},
{"data":{"name":"lab"},"transform":[{"filter":"datum.p=='i'"}],"mark":{"type":"text","fontSize":14,"align":"center","baseline":"middle"},"encoding":{"x":{"datum":34.8,"type":"quantitative"},"y":{"datum":921,"type":"quantitative"},"text":{"field":"c"}}}
]},
{"width":220,"height":255,"title":"(j)","layer":[
{"encoding":{"x":{"field":"u","type":"quantitative","scale":{"domain":[0,40]},"axis":{"values":[0,10,20,30,40],"labels":true,"title":"U [ms⁻¹]"}},"y":{"field":"h","type":"quantitative","scale":{"domain":[0,1000]},"axis":{"values":[0,200,400,600,800,1000],"labels":false,"title":null}}},
"layer":[
{"data":{"name":"band"},"transform":[{"filter":"datum.p=='j'&&datum.k=='o'"}],"mark":{"type":"area","orient":"horizontal","interpolate":"monotone","fill":"#808080","opacity":0.18},"encoding":{"x2":{"field":"u2"}}},
{"data":{"name":"band"},"transform":[{"filter":"datum.p=='j'&&datum.k=='c'"}],"mark":{"type":"area","orient":"horizontal","interpolate":"monotone","fill":"#808080","opacity":0.88},"encoding":{"x2":{"field":"u2"}}},
{"data":{"name":"lines"},"transform":[{"filter":"datum.p=='j'"}],"mark":{"type":"line","interpolate":"catmull-rom"},"encoding":{"order":{"field":"h","type":"quantitative"},"color":{"field":"s","type":"nominal","scale":{"domain":["profiles","centroid","P 5","P 50","P 95"],"range":["#999999","#4169e1","#ff0000","#ff0000","#ff0000"]},"legend":{"title":null}},"strokeDash":{"field":"s","type":"nominal","scale":{"domain":["profiles","centroid","P 5","P 50","P 95"],"range":[[1,0],[1,0],[10,4],[16,4,3,4],[3,4.5]]},"legend":{"title":null}},"strokeWidth":{"condition":{"test":"datum.s=='centroid'","value":2.2},"value":2.8}}}
]},
{"data":{"name":"lab"},"transform":[{"filter":"datum.p=='j'"}],"mark":{"type":"rect","fill":"white","stroke":"black","strokeWidth":1},"encoding":{"x":{"datum":29.2,"type":"quantitative"},"x2":{"datum":38.8},"y":{"datum":869,"type":"quantitative"},"y2":{"datum":969}}},
{"data":{"name":"lab"},"transform":[{"filter":"datum.p=='j'"}],"mark":{"type":"text","fontSize":14,"align":"center","baseline":"middle"},"encoding":{"x":{"datum":34.0,"type":"quantitative"},"y":{"datum":919,"type":"quantitative"},"text":{"field":"c"}}}
]}
],
"config":{
"font":"DejaVu Sans",
"view":{"stroke":"black","strokeWidth":1},
"axis":{"domainColor":"black","tickColor":"black","tickSize":5,"labelFontSize":17,"labelColor":"black","labelFont":"DejaVu Sans","labelFlush":false,"labelOverlap":false,"labelPadding":2,"titleFont":"DejaVu Sans","titleFontSize":17,"titleFontWeight":"normal","titleColor":"black","titlePadding":5,"gridColor":"#b0b0b0","gridWidth":0.8},
"title":{"font":"DejaVu Sans","fontSize":19,"fontWeight":"normal","color":"black","offset":-5},
"text":{"font":"DejaVu Sans","color":"black"},
"legend":{"orient":"none","legendX":285,"legendY":-65,"direction":"horizontal","symbolType":"stroke","symbolSize":1156,"symbolStrokeWidth":2.5,"clipHeight":22,"labelFontSize":17,"labelFont":"DejaVu Sans","labelColor":"black","strokeColor":"#cccccc","fillColor":"white","cornerRadius":4,"padding":5,"columnPadding":35.5,"labelOffset":13}
}
}
